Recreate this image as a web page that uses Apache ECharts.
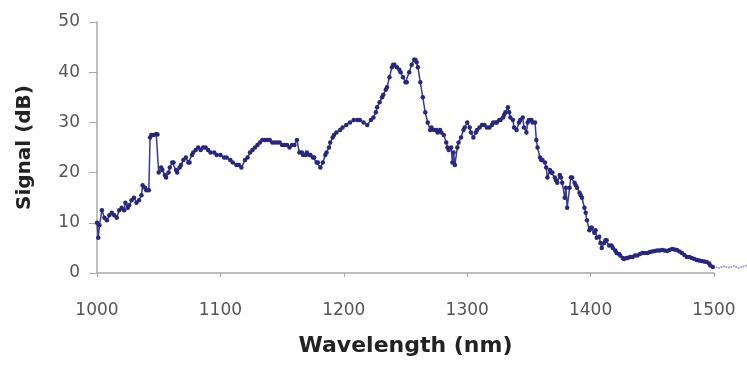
<!DOCTYPE html>
<html style="height: 100%">
<head>
    <meta charset="UTF-8">
    <script type="text/javascript" src="https://cdn.jsdelivr.net/npm/echarts@6/dist/echarts.min.js"></script>
    <style type="text/css">
        body {margin:0; padding:0; overflow:hidden; height: 100%; background: #fff}
    </style>
</head>
<body>
    <div id="container" style="width:747px;height:365px"></div>
<script>
// measured spectrum (nm, dB)
var wavelength = [1000,1001,1002,1004,1006,1008,1010,1012,1014,1016,1018,1020,1022,1023,1025,1026,1028,1030,1032,1034,1036,1037,1039,1040,1042,
    1043,1044,1046,1048,1049,1050,1052,1053,1055,1056,1058,1059,1061,1062,1064,1065,1067,1068,1070,1072,1074,1075,1077,1078,1080,1082,1084,1086,1088,1090,
    1092,1095,1097,1100,1103,1105,1108,1110,1113,1115,1117,1120,1122,1124,1126,1128,1130,1132,1134,1136,1138,1140,1142,1144,1146,1148,1150,1152,1154,1156,
    1158,1160,1162,1164,1166,1167,1169,1170,1172,1173,1175,1176,1178,1179,1181,1183,1185,1186,1188,1189,1191,1192,1194,1197,1199,1202,1205,1208,1211,1213,
    1216,1219,1222,1224,1226,1227,1229,1231,1232,1234,1235,1237,1239,1240,1241,1243,1245,1246,1248,1250,1251,1253,1255,1257,1258,1259,1260,1262,1264,1266,
    1268,1270,1271,1273,1275,1276,1278,1279,1281,1283,1284,1285,1287,1288,1289,1290,1292,1293,1295,1297,1298,1300,1302,1303,1305,1307,1308,1310,1312,1314,
    1316,1318,1320,1321,1323,1324,1326,1327,1329,1330,1331,1333,1334,1335,1337,1338,1340,1342,1343,1345,1346,1348,1349,1350,1352,1353,1355,1356,1357,1359,
    1360,1361,1363,1364,1365,1367,1368,1369,1371,1372,1373,1375,1376,1377,1379,1380,1381,1383,1384,1385,1387,1388,1389,1391,1392,1393,1395,1396,1397,1399,
    1400,1401,1403,1404,1405,1407,1408,1409,1411,1412,1413,1415,1417,1418,1420,1421,1423,1424,1426,1427,1429,1430,1432,1434,1436,1438,1440,1442,1444,1446,
    1448,1450,1452,1454,1456,1458,1460,1462,1464,1466,1468,1470,1472,1474,1476,1478,1480,1482,1484,1486,1488,1490,1492,1494,1496,1497,1499];
var signal = [10,7,9.5,12.5,11,10.5,11.5,12,11.5,11,12.5,13,12.5,14,13,13.5,14.5,15,14,14.5,15.5,17.5,17,16.5,16.5,
    27,27.5,27.5,27.7,27.6,20,21,20.5,19.5,19,20,21,22,22,20.5,20,21,21.5,22.5,23,22,22,23.5,24,24.5,25,24.5,25,25,24.5,
    24,24,23.5,23.5,23,23,22.5,22,21.5,21.5,21,22.5,23,24,24.5,25,25.5,26,26.5,26.5,26.5,26.5,26,26,26,26,25.5,25.5,25.5,25,
    25.5,25.5,26.5,24,24,23.5,23.5,24,23.5,23.5,23,23,22,22,21,22,23.5,24,25,26,27,27.5,28,28.5,29,29.5,30,30.5,30.5,30.5,
    30,29.5,30.5,31,32,33,34,35,35.5,36.5,37,39,41,41.5,41.5,41,40.5,40,39,38,38,40,41.5,42.5,42.5,42,41,38,35,32,
    30,28.5,29,28.5,28.5,28,28.5,28,27.5,26,25,24.5,25,22,24,21.5,25,26,27,28.5,29,30,29,28,27,28,28.5,29,29.5,29.5,
    29,29,29.5,30,30,30,30.5,30.5,31,31.5,32,33,32,31,30.5,29,28.5,30,30.5,31,29,28,30,30.5,30.5,30,30,26.5,25,23,
    22.5,22.5,22,21,19,20.5,20,20,19,18.5,18,19.5,19,18,15,17,13,17,19,19,18,17.5,17,16,15.5,15,13,12,10.5,8.5,
    9,9,8,8.5,7,7.2,6,5,6,6.5,6.5,5.5,5.5,5,4.5,4,3.8,3.5,3,2.8,3,3,3.2,3.2,3.5,3.5,3.8,4,4,4,
    4.2,4.3,4.4,4.5,4.5,4.6,4.5,4.4,4.6,4.8,4.7,4.6,4.3,4,3.6,3.2,3.2,3,2.8,2.6,2.5,2.4,2.3,2.2,1.9,1.5,1.2];
// faint trace past the axis end
var tailWavelength = [1499,1502,1504,1506,1508,1510,1512,1514,1516,1518,1520,1522,1524,1526,1528];
var tailSignal = [1.2,1.1,1.0,1.2,1.3,1.2,1.1,1.2,1.4,1.2,1.0,1.2,1.3,1.5,1.3];
var xTicks = [1000,1100,1200,1300,1400,1500];
var yTicks = [0,10,20,30,40,50];

var myChart = echarts.init(document.getElementById('container'));

var mainData = wavelength.map(function (w, i) { return [w, signal[i]]; });
var tailData = tailWavelength.map(function (w, i) { return [w, tailSignal[i]]; });

var option = {
    animation: false,
    grid: {
        left: 97,
        right: 33,
        top: 22,
        bottom: 92,
        outerBoundsMode: 'none'
    },
    xAxis: {
        type: 'value',
        min: xTicks[0],
        max: xTicks[xTicks.length - 1],
        interval: 100,
        name: 'Wavelength (nm)',
        nameLocation: 'middle',
        nameGap: 62,
        nameTextStyle: {
            fontFamily: 'DejaVu Sans',
            fontWeight: 'bold',
            fontSize: 22,
            color: '#222'
        },
        axisLine: {lineStyle: {color: '#a8a8a8', width: 1.5}},
        axisTick: {show: true, length: 4, lineStyle: {color: '#a8a8a8'}},
        axisLabel: {
            margin: 29,
            fontFamily: 'DejaVu Sans',
            fontSize: 17,
            color: '#555',
            formatter: function (v) { return String(v); }
        },
        splitLine: {show: false}
    },
    yAxis: {
        type: 'value',
        min: yTicks[0],
        max: yTicks[yTicks.length - 1],
        interval: 10,
        name: 'Signal (dB)',
        nameLocation: 'middle',
        nameGap: 62,
        nameTextStyle: {
            fontFamily: 'DejaVu Sans',
            fontWeight: 'bold',
            fontSize: 20,
            color: '#222'
        },
        axisLine: {show: true, lineStyle: {color: '#a8a8a8', width: 1.5}},
        axisTick: {show: true, length: 8, lineStyle: {color: '#a8a8a8'}},
        axisLabel: {
            margin: 17,
            fontFamily: 'DejaVu Sans',
            fontSize: 17,
            color: '#555'
        },
        splitLine: {show: false}
    },
    series: [
        {
            type: 'line',
            data: mainData,
            symbol: 'circle',
            symbolSize: 4.5,
            itemStyle: {color: '#282680'},
            lineStyle: {color: '#3a3896', width: 1.5},
            z: 3
        },
        {
            type: 'line',
            data: tailData,
            clip: false,
            symbol: 'circle',
            symbolSize: 2,
            itemStyle: {color: '#9a9ac0'},
            lineStyle: {color: '#b0b0c8', width: 1},
            z: 2
        }
    ]
};
myChart.setOption(option);
</script>
</body>
</html>
